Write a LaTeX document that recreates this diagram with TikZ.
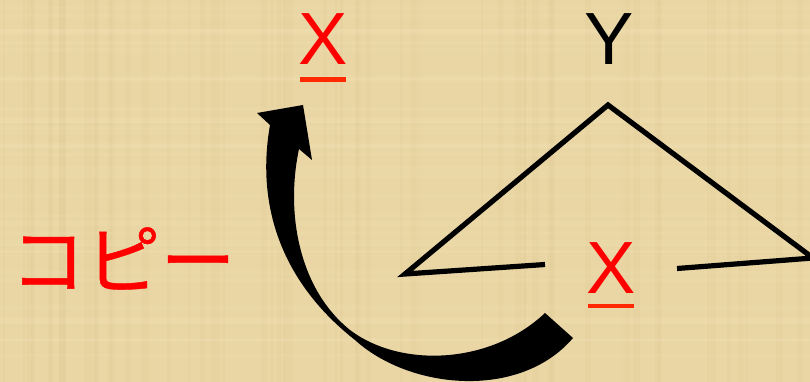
\documentclass[tikz,border=0pt]{standalone}
\usepackage{fontspec}
\setmainfont{Liberation Sans}
\newfontfamily\jpfont[FakeBold=0.6]{Noto Sans CJK JP}
\definecolor{papyrus}{RGB}{234,214,164}
\definecolor{papyrusdark}{RGB}{205,180,125}
\definecolor{papyruslight}{RGB}{245,230,190}
\definecolor{ulinered}{RGB}{255,40,0}

\begin{document}
\begin{tikzpicture}[
        x=1pt, y=-1pt,
        letter/.style={
            anchor=base,
            inner sep=0pt,
            font=\fontsize{74}{80}\selectfont
        },
        redletter/.style={
            letter,
            text=red
        },
        copylabel/.style={
            anchor=base,
            inner sep=0pt,
            text=red,
            font=\jpfont\fontsize{75}{80}\selectfont
        },
        uline/.style={ulinered, line width=4.5pt},
        branch/.style={black, line width=5.2pt, miter limit=20},
        bigarrow/.style={fill=black, draw=none}
    ]

        % papyrus background
        \fill[papyrus] (0,0) rectangle (810,382);
        \pgfmathsetseed{7}
        \foreach \i in {1,...,60} {
            \pgfmathsetmacro{\px}{rnd*810}
            \pgfmathsetmacro{\pw}{1+rnd*6}
            \fill[papyrusdark, opacity=0.08] (\px,0) rectangle ++(\pw,382);
        }
        \foreach \i in {1,...,40} {
            \pgfmathsetmacro{\py}{rnd*382}
            \pgfmathsetmacro{\ph}{1+rnd*5}
            \fill[papyruslight, opacity=0.15] (0,\py) rectangle ++(810,\ph);
        }
        \useasboundingbox (0,0) rectangle (810,382);

        \node[redletter] (xtop) at (323,65) {X};
        \node[letter] (ylabel) at (609,65) {Y};
        \node[redletter] (xbot) at (611,293) {X};
        \node[copylabel] (copy) at (123,288) {コピー};

        % underlines
        \draw[uline] ([xshift=-23pt,yshift=-14.5pt]xtop.base) -- ++(46,0);
        \draw[uline] ([xshift=-23pt,yshift=-13pt]xbot.base) -- ++(46,0);

        % tree
        \coordinate (apex) at (608,105);
        \coordinate (lft) at (405,274);
        \coordinate (rgt) at (813,258);
        \coordinate (gapl) at (545,264.5);
        \coordinate (gapr) at (677,268.5);
        \draw[branch] (gapl) -- (lft) -- (apex) -- (rgt) -- (gapr);

        % copy arrow
        \fill[bigarrow] (573,338)
            .. controls (520,400) and (410,390) .. (355,340)
            .. controls (285,285) and (255,210) .. (270,125)
            -- (257,113) -- (303,105) -- (312,160) -- (299,149)
            .. controls (285,215) and (300,290) .. (350,330)
            .. controls (400,368) and (490,365) .. (545,313)
            -- cycle;

    \end{tikzpicture}
\end{document}
